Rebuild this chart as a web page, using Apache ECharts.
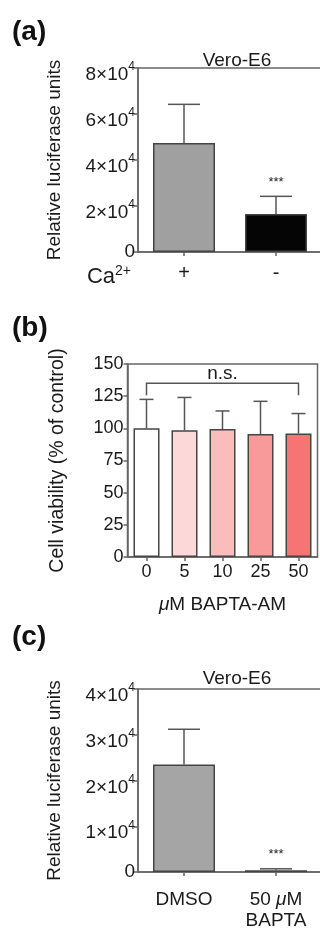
<!DOCTYPE html>
<html><head><meta charset="utf-8">
<script src="https://cdn.jsdelivr.net/npm/echarts@6/dist/echarts.min.js"></script>
<style>html,body{margin:0;padding:0;background:#fff}#c{width:320px;height:928px}</style>
</head><body><div id="c"></div>
<script>
// ---- data ----
const catsA = ['+', '-'];
const valsA = [47400, 16500];
const errA = [64200, 24200];
const sigA = ['', '***'];

const catsB = ['0', '5', '10', '25', '50'];
const valsB = [100, 98.5, 99.5, 95.5, 96];
const errB = [122.5, 124, 113.5, 121, 111.5];
const bracketB = {from: 0, to: 4, level: 135, text: 'n.s.'};

const catsC = ['DMSO', '50 μM\nBAPTA'];
const valsC = [23500, 400];
const errC = [31200, 700];
const sigC = ['', '***'];

// ---- styles ----
const F = '"Liberation Sans", Arial, Helvetica, sans-serif';
const txt = '#1a1a1a';
const axisC = '#666';
const colorsA = ['#a0a0a0', '#050505'];
const colorsB = ['#ffffff', '#fdd8d8', '#fbbcbc', '#f99a9a', '#f77474'];
const colorsC = ['#a5a5a5', '#050505'];

function supFmt(v) { return v === 0 ? '{z|0}' : '{b|' + (v / 10000) + '×10}{s|4}'; }
const richSup = {
  b: {fontSize: 19, fontFamily: F, color: txt, padding: [14, 0, 0, 0]},
  s: {fontSize: 12, fontFamily: F, color: txt, padding: [0, 0, 2, 0]},
  z: {fontSize: 19, fontFamily: F, color: txt}
};
const muRich = {
  i: {fontSize: 19, fontFamily: F, color: txt, fontStyle: 'italic'},
  n: {fontSize: 19, fontFamily: F, color: txt}
};
function muFmt(v) {
  return v.split('\n').map(line => line.split('μ').map(s => s ? '{n|' + s + '}' : '').join('{i|μ}')).join('\n');
}
const axLine = {show: true, lineStyle: {color: axisC, width: 1.5}};
const axTick = {show: true, length: 4, lineStyle: {color: axisC, width: 1.5}};

function errSeries(idx, vals, errs, capW) {
  return {
    type: 'custom', xAxisIndex: idx, yAxisIndex: idx, z: 3, silent: true,
    data: vals.map((v, i) => [i, v, errs[i]]),
    renderItem: (p, api) => {
      const a = api.coord([api.value(0), api.value(1)]);
      const b = api.coord([api.value(0), api.value(2)]);
      const st = {stroke: '#555', lineWidth: 1.5};
      return {type: 'group', children: [
        {type: 'line', shape: {x1: a[0], y1: a[1], x2: b[0], y2: b[1]}, style: st},
        {type: 'line', shape: {x1: b[0] - capW / 2, y1: b[1], x2: b[0] + capW / 2, y2: b[1]}, style: st}
      ]};
    }
  };
}
function sigSeries(idx, errs, sig) {
  return {
    type: 'custom', xAxisIndex: idx, yAxisIndex: idx, z: 4, silent: true,
    data: errs.map((e, i) => [i, e]).filter((d, i) => sig[i]),
    renderItem: (p, api) => {
      const c = api.coord([api.value(0), api.value(1)]);
      return {type: 'text', x: c[0], y: c[1] - 14, style: {text: sig[api.value(0)], align: 'center', verticalAlign: 'middle', fontSize: 13, fontFamily: F, fill: txt}};
    }
  };
}
function barSeries(idx, vals, colors, w) {
  return {
    type: 'bar', xAxisIndex: idx, yAxisIndex: idx, data: vals, barWidth: w, z: 2,
    itemStyle: {color: p => colors[p.dataIndex], borderColor: '#444', borderWidth: 1.5}
  };
}

const chart = echarts.init(document.getElementById('c'), null, {renderer: 'canvas'});
const gridStyle = {show: true, borderColor: axisC, borderWidth: 1.5, backgroundColor: 'transparent', containLabel: false, outerBoundsMode: 'none'};
const option = {
  animation: false,
  backgroundColor: '#fff',
  title: [
    {text: '(a)', left: 7, top: 13, textStyle: {fontSize: 28, fontWeight: 'bold', fontFamily: F, color: '#111'}},
    {text: 'Vero-E6', left: 232, top: 46, textAlign: 'center', textStyle: {fontSize: 19, fontWeight: 'normal', fontFamily: F, color: txt}},
    {text: '(b)', left: 7, top: 309, textStyle: {fontSize: 28, fontWeight: 'bold', fontFamily: F, color: '#111'}},
    {text: '(c)', left: 7, top: 618, textStyle: {fontSize: 28, fontWeight: 'bold', fontFamily: F, color: '#111'}},
    {text: 'Vero-E6', left: 232, top: 664, textAlign: 'center', textStyle: {fontSize: 19, fontWeight: 'normal', fontFamily: F, color: txt}}
  ],
  grid: [
    Object.assign({left: 138, top: 68, width: 184, height: 184}, gridStyle),
    Object.assign({left: 127.5, top: 364, width: 190, height: 193}, gridStyle),
    Object.assign({left: 138, top: 689, width: 184, height: 183}, gridStyle)
  ],
  xAxis: [
    {type: 'category', gridIndex: 0, data: catsA, axisLine: axLine, axisTick: Object.assign({alignWithLabel: true}, axTick),
     axisLabel: {interval: 0, fontSize: 20, fontFamily: F, color: txt, margin: 11},
     name: '{a|Ca}{s|2+}', nameLocation: 'start', nameGap: 7,
     nameTextStyle: {padding: [42, 0, 0, 0], rich: {a: {fontSize: 22, fontFamily: F, color: txt, padding: [8, 0, 0, 0]}, s: {fontSize: 14, fontFamily: F, color: txt, padding: [0, 0, 4, 0]}}}},
    {type: 'category', gridIndex: 1, data: catsB, axisLine: axLine, axisTick: Object.assign({alignWithLabel: true}, axTick),
     axisLabel: {interval: 0, fontSize: 18, fontFamily: F, color: txt, margin: 6},
     name: '{i|μ}{n|M BAPTA-AM}', nameLocation: 'middle', nameGap: 38,
     nameTextStyle: {fontSize: 19, fontFamily: F, color: txt, rich: muRich}},
    {type: 'category', gridIndex: 2, data: catsC, axisLine: axLine, axisTick: Object.assign({alignWithLabel: true}, axTick),
     axisLabel: {interval: 0, hideOverlap: false, fontSize: 19, fontFamily: F, color: txt, margin: 17, lineHeight: 21, formatter: muFmt,
       rich: {i: Object.assign({lineHeight: 21}, muRich.i), n: Object.assign({lineHeight: 21}, muRich.n)}}}
  ],
  yAxis: [
    {type: 'value', gridIndex: 0, min: 0, max: 80000, interval: 20000, axisLine: axLine, axisTick: axTick, splitLine: {show: false},
     axisLabel: {formatter: supFmt, rich: richSup, margin: 3},
     name: 'Relative luciferase units', nameLocation: 'middle', nameGap: 74,
     nameTextStyle: {fontSize: 19, fontFamily: F, color: txt}},
    {type: 'value', gridIndex: 1, min: 0, max: 150, interval: 25, axisLine: axLine, axisTick: axTick, splitLine: {show: false},
     axisLabel: {fontSize: 18, fontFamily: F, color: txt, margin: 4},
     name: 'Cell viability (% of control)', nameLocation: 'middle', nameGap: 60,
     nameTextStyle: {fontSize: 19.5, fontFamily: F, color: txt}},
    {type: 'value', gridIndex: 2, min: 0, max: 40000, interval: 10000, axisLine: axLine, axisTick: axTick, splitLine: {show: false},
     axisLabel: {formatter: supFmt, rich: richSup, margin: 3},
     name: 'Relative luciferase units', nameLocation: 'middle', nameGap: 74,
     nameTextStyle: {fontSize: 19, fontFamily: F, color: txt}}
  ],
  series: [
    barSeries(0, valsA, colorsA, 62),
    errSeries(0, valsA, errA, 32),
    sigSeries(0, errA, sigA),
    barSeries(1, valsB, colorsB, 26),
    errSeries(1, valsB, errB, 14),
    {
      type: 'custom', xAxisIndex: 1, yAxisIndex: 1, z: 4, silent: true,
      data: [[bracketB.from, bracketB.to, bracketB.level]],
      renderItem: (p, api) => {
        const a = api.coord([api.value(0), api.value(2)]);
        const b = api.coord([api.value(1), api.value(2)]);
        const st = {stroke: '#555', lineWidth: 1.5, fill: null};
        return {type: 'group', children: [
          {type: 'polyline', shape: {points: [[a[0], a[1] + 12], [a[0], a[1]], [b[0], b[1]], [b[0], b[1] + 12]]}, style: st},
          {type: 'text', x: (a[0] + b[0]) / 2, y: a[1] - 10, style: {text: bracketB.text, align: 'center', verticalAlign: 'middle', fontSize: 19, fontFamily: F, fill: txt}}
        ]};
      }
    },
    barSeries(2, valsC, colorsC, 62),
    errSeries(2, valsC, errC, 32),
    sigSeries(2, errC, sigC)
  ]
};
chart.setOption(option);
</script>
</body></html>
